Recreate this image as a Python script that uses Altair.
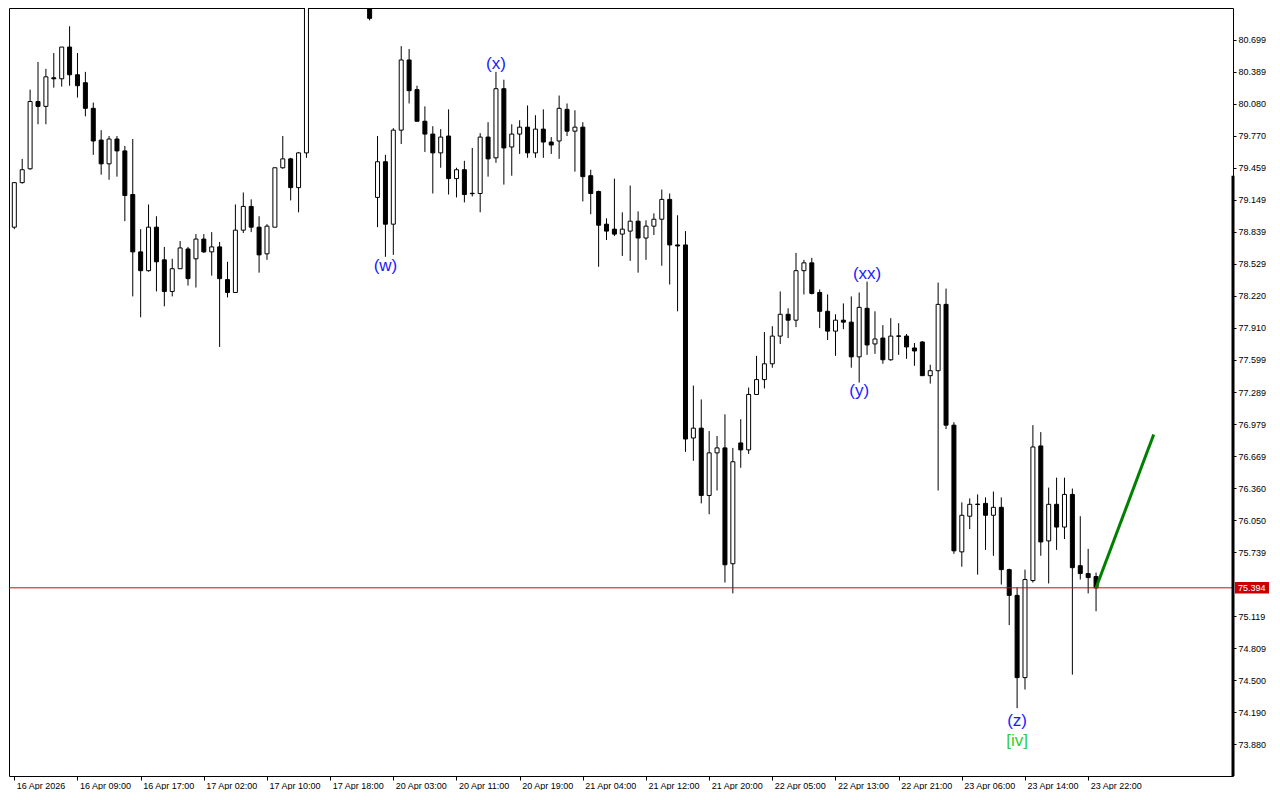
import json
import altair as alt
import pandas as pd

# ---- data (hourly bars, index = bar number) ----
bar_index = list(range(0, 38)) + list(range(45, 138))

opens = [78.884, 79.315, 79.449, 80.100, 80.053, 80.330, 80.320, 80.627, 80.359, 80.282,
         80.034, 79.727, 79.497, 79.737, 79.622, 79.200, 78.645, 78.463, 78.884, 78.568,
         78.262, 78.482, 78.673, 78.578, 78.769, 78.645, 78.693, 78.377, 78.252, 78.855,
         79.085, 78.884, 78.626, 78.884, 79.459, 79.545, 79.267, 79.603,
         81.250, 79.172, 79.517, 78.913, 79.823, 80.502, 80.215, 79.909, 79.785, 79.603,
         79.766, 79.354, 79.440, 79.212, 79.210, 79.756, 79.555, 80.224, 79.660, 79.785,
         79.852, 79.603, 79.833, 79.708, 79.718, 80.024, 79.813, 79.852, 79.382, 79.229,
         78.913, 78.865, 78.817, 78.846, 78.942, 78.779, 78.894, 78.961, 79.153, 78.712,
         78.712, 76.844, 76.939, 76.288, 76.700, 76.748, 75.627, 76.796, 76.729, 77.265,
         77.409, 77.562, 77.830, 78.041, 77.984, 78.463, 78.539, 78.252, 78.070, 77.878,
         77.984, 77.965, 77.629, 78.099, 77.754, 77.811, 77.601, 77.832, 77.830, 77.715,
         77.773, 77.447, 77.495, 78.137, 76.968, 75.742, 76.087, 76.204, 76.211, 76.096,
         76.173, 75.570, 75.321, 74.525, 75.464, 76.767, 75.848, 76.202, 75.982, 76.298,
         75.608, 75.532, 75.503]

highs = [79.315, 79.545, 80.215, 80.483, 80.416, 80.569, 80.627, 80.828, 80.569, 80.387,
         80.090, 79.823, 79.766, 79.766, 79.670, 79.737, 78.865, 79.104, 78.990, 78.693,
         78.578, 78.750, 78.693, 78.817, 78.817, 78.836, 78.741, 78.549, 79.104, 79.220,
         79.153, 78.990, 78.913, 79.459, 79.766, 79.555, 79.612, 81.400,
         81.300, 79.766, 79.584, 79.842, 80.636, 80.608, 80.253, 80.053, 79.861, 79.833,
         80.024, 79.459, 79.526, 79.651, 79.794, 79.900, 80.387, 80.311, 79.880, 79.919,
         80.062, 79.967, 80.024, 79.756, 80.158, 80.081, 80.015, 79.900, 79.440, 79.238,
         78.970, 79.354, 79.028, 79.287, 79.037, 78.951, 79.018, 79.248, 79.210, 78.999,
         78.846, 77.351, 77.217, 76.911, 76.863, 77.073, 76.748, 77.026, 77.332, 77.639,
         77.869, 77.926, 78.262, 78.099, 78.635, 78.568, 78.587, 78.281, 78.233, 78.041,
         78.146, 78.214, 78.252, 78.357, 78.070, 77.936, 78.003, 77.955, 77.850, 77.763,
         77.782, 77.553, 78.348, 78.290, 76.997, 76.221, 76.259, 76.298, 76.269, 76.326,
         76.269, 75.579, 75.397, 75.570, 76.968, 76.901, 76.364, 76.460, 76.460, 76.355,
         76.087, 75.771, 75.541]

lows = [78.865, 79.306, 79.440, 79.880, 79.880, 80.234, 80.244, 80.253, 80.138, 79.957,
        79.584, 79.392, 79.343, 79.373, 78.942, 78.214, 78.012, 78.453, 78.262, 78.118,
        78.214, 78.482, 78.319, 78.300, 78.635, 78.415, 77.725, 78.204, 78.252, 78.827,
        78.836, 78.444, 78.568, 78.884, 79.449, 79.143, 79.028, 79.555,
        80.885, 78.884, 78.597, 78.616, 79.689, 80.081, 79.909, 79.612, 79.210, 79.459,
        79.200, 79.172, 79.124, 79.181, 79.028, 79.373, 79.507, 79.296, 79.382, 79.593,
        79.555, 79.555, 79.555, 79.593, 79.545, 79.766, 79.421, 79.133, 79.009, 78.501,
        78.760, 78.798, 78.606, 78.558, 78.444, 78.568, 78.808, 78.511, 78.329, 78.070,
        76.710, 76.623, 76.211, 76.106, 76.336, 75.445, 75.340, 76.556, 76.690, 77.265,
        77.323, 77.524, 77.754, 77.811, 77.917, 78.233, 78.233, 77.907, 77.792, 77.639,
        77.897, 77.524, 77.380, 77.648, 77.658, 77.562, 77.591, 77.648, 77.610, 77.543,
        77.447, 77.370, 76.336, 76.930, 75.723, 75.598, 75.962, 75.522, 75.761, 75.704,
        75.426, 75.033, 74.229, 74.410, 75.445, 75.704, 75.436, 75.761, 75.866, 74.554,
        75.474, 75.340, 75.167]

closes = [79.315, 79.440, 80.100, 80.053, 80.339, 80.320, 80.627, 80.359, 80.253, 80.034,
          79.718, 79.497, 79.737, 79.622, 79.191, 78.645, 78.463, 78.884, 78.549, 78.262,
          78.482, 78.683, 78.386, 78.769, 78.645, 78.693, 78.386, 78.252, 78.855, 79.085,
          78.884, 78.616, 78.894, 79.459, 79.545, 79.267, 79.603, 81.300,
          80.905, 79.517, 78.913, 79.823, 80.502, 80.205, 79.909, 79.785, 79.603, 79.756,
          79.354, 79.440, 79.200, 79.208, 79.756, 79.545, 80.224, 79.651, 79.785, 79.852,
          79.603, 79.833, 79.708, 79.679, 80.034, 79.813, 79.852, 79.373, 79.210, 78.903,
          78.846, 78.817, 78.865, 78.942, 78.779, 78.894, 78.961, 79.153, 78.712, 78.702,
          76.834, 76.939, 76.288, 76.700, 76.748, 75.617, 76.614, 76.729, 77.265, 77.409,
          77.562, 77.830, 78.041, 77.984, 78.463, 78.539, 78.243, 78.070, 77.878, 77.984,
          77.965, 77.629, 78.108, 77.744, 77.802, 77.601, 77.830, 77.828, 77.725, 77.686,
          77.447, 77.495, 78.137, 76.968, 75.752, 76.096, 76.202, 76.200, 76.096, 76.173,
          75.570, 75.321, 74.525, 75.474, 76.757, 75.838, 76.202, 75.982, 76.298, 75.589,
          75.532, 75.493, 75.394]

# wave labels
label_text = ["(w)", "(x)", "(xx)", "(y)", "(z)", "[iv]"]
label_bar = [47, 61, 108, 107, 127, 127]
label_price = [78.511, 80.464, 78.434, 77.294, 74.105, 73.913]
label_color = ["#1a1aff", "#1a1aff", "#1a1aff", "#1a1aff", "#1a1aff", "#33cc33"]

# projection line
proj_bar = [137, 144.3]
proj_price = [75.394, 76.877]

current_price = 75.394

# (75.429 sits under the current-price box in the reference and is not shown)
y_ticks = [80.699, 80.389, 80.080, 79.770, 79.459, 79.149, 78.839, 78.529, 78.220, 77.910,
           77.599, 77.289, 76.979, 76.669, 76.360, 76.050, 75.739, 75.119, 74.809,
           74.500, 74.190, 73.880]
x_tick_bars = [0, 8, 16, 24, 32, 40, 48, 56, 64, 72, 80, 88, 96, 104, 112, 120, 128, 136]
x_tick_labels = ["16 Apr 2026", "16 Apr 09:00", "16 Apr 17:00", "17 Apr 02:00", "17 Apr 10:00",
                 "17 Apr 18:00", "20 Apr 03:00", "20 Apr 11:00", "20 Apr 19:00", "21 Apr 04:00",
                 "21 Apr 12:00", "21 Apr 20:00", "22 Apr 05:00", "22 Apr 13:00", "22 Apr 21:00",
                 "23 Apr 06:00", "23 Apr 14:00", "23 Apr 22:00"]

# ---- build ----
W, H = 1224, 768
FONT = "Liberation Sans"
y_dom = [73.573, 81.005]
x_dom = [-0.04, 153.71]

df = pd.DataFrame({"bar": bar_index, "open": opens, "high": highs,
                   "low": lows, "close": closes})
df["fill"] = ["white" if c > o else "black" for o, c in zip(opens, closes)]

lab_df = pd.DataFrame({"bar": label_bar, "price": label_price,
                       "text": label_text, "color": label_color})
proj_df = pd.DataFrame({"bar": proj_bar, "price": proj_price})

label_map = {str(b): t for b, t in zip(x_tick_bars, x_tick_labels)}
label_expr = json.dumps(label_map) + "[format(datum.value, 'd')]"

x_scale = alt.Scale(domain=x_dom, nice=False, zero=False)
y_scale = alt.Scale(domain=y_dom, nice=False, zero=False)

x_axis = alt.Axis(values=x_tick_bars, labelExpr=label_expr, title=None,
                  grid=False, domain=False, tickSize=4, tickColor="black",
                  labelAlign="left", labelOffset=2, labelPadding=1,
                  labelFont=FONT, labelFontSize=9, labelColor="black",
                  labelOverlap=False, labelFlush=False)
y_axis = alt.Axis(values=y_ticks, format=".3f", orient="right", title=None, grid=False,
                  domain=False, tickSize=3, tickColor="black", labelPadding=2,
                  labelFont=FONT, labelFontSize=9, labelColor="black",
                  labelOverlap=False, labelFlush=False, labelBound=False)


def X(field):
    return alt.X(field, scale=x_scale, axis=x_axis)


def Y(field):
    return alt.Y(field, scale=y_scale, axis=y_axis)


base = alt.Chart(df)

wicks = base.mark_rule(color="black", strokeWidth=1, clip=True).encode(
    x=X("bar:Q"), y=Y("low:Q"), y2="high:Q",
)

bodies = base.mark_bar(size=4, stroke="black", strokeWidth=1, clip=True).encode(
    x=X("bar:Q"), y=Y("open:Q"), y2="close:Q",
    fill=alt.Fill("fill:N", scale=None),
)

price_line = alt.Chart(pd.DataFrame({"p": [current_price]})).mark_rule(
    color="#e00000", strokeWidth=1).encode(y=Y("p:Q"))

proj = alt.Chart(proj_df).mark_line(color="#008000", strokeWidth=3).encode(
    x=X("bar:Q"), y=Y("price:Q"))

labels = alt.Chart(lab_df).mark_text(font=FONT, fontSize=17, baseline="middle",
                                     align="center").encode(
    x=X("bar:Q"), y=Y("price:Q"), text="text:N",
    color=alt.Color("color:N", scale=None))

side_bar = alt.Chart(pd.DataFrame({"a": [79.382], "b": [y_dom[0]]})).mark_rule(
    color="black", strokeWidth=3).encode(x=alt.value(W), y=Y("a:Q"), y2="b:Q")

price_box = alt.Chart(pd.DataFrame({"a": [current_price + 0.056],
                                    "b": [current_price - 0.056]})).mark_rect(
    color="#c80000").encode(x=alt.value(W + 2), x2=alt.value(W + 36),
                            y=Y("a:Q"), y2="b:Q")

price_txt = alt.Chart(pd.DataFrame({"p": [current_price], "t": ["75.394"]})).mark_text(
    font=FONT, fontSize=9, color="white", align="left", baseline="middle").encode(
    x=alt.value(W + 5), y=Y("p:Q"), text="t:N")

chart = alt.layer(wicks, bodies, price_line, proj, labels, side_bar, price_box,
                  price_txt).properties(
    width=W, height=H, padding=0, background="white"
).configure_view(stroke="black", strokeWidth=1).configure_axis(labelOverlap=False)

chart.save("out.html", embed_options={"renderer": "svg", "actions": False})
